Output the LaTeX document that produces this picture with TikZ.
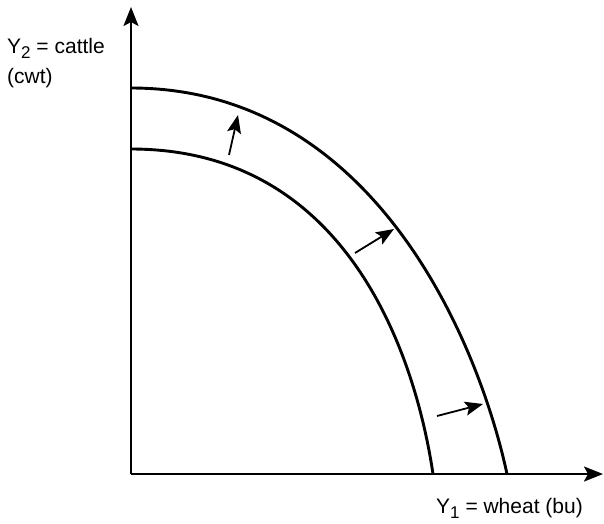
\documentclass[tikz,border=0pt]{standalone}
\usepackage{fontspec}
\setmainfont{Liberation Sans}
\usetikzlibrary{arrows.meta}
\begin{document}
\begin{tikzpicture}[x=1pt,y=-1pt,
  axis/.style={line width=2.4pt,-{Stealth[length=19pt,width=15pt,inset=4pt]}},
  curve/.style={line width=2.9pt},
  shiftarrow/.style={line width=1.8pt,-{Stealth[length=18pt,width=14pt,inset=3.5pt]}},
  lab/.style={font=\fontsize{21}{21}\selectfont,inner sep=0pt}]
\useasboundingbox (0,0) rectangle (604,523);
\newcommand{\sbs}[1]{\raisebox{-5.5pt}{\fontsize{17}{17}\selectfont #1}}
% axes
\coordinate (O) at (131,474);
\coordinate (ytip) at (131,7);
\coordinate (xtip) at (603,474);
\draw[axis] (O) -- (ytip);
\draw[axis] (O) -- (xtip);
% curves
\coordinate (i0) at (131,149);
\coordinate (i1) at (433,474);
\coordinate (o0) at (131,88);
\coordinate (o1) at (507,474);
\draw[curve] (i0) .. controls (367,149) and (421,393) .. (i1);
\draw[curve] (o0) .. controls (375,88) and (479,344) .. (o1);
% shift arrows
\coordinate (a1s) at (229,155); \coordinate (a1e) at (238,115);
\coordinate (a2s) at (355,253); \coordinate (a2e) at (394,229);
\coordinate (a3s) at (437,416); \coordinate (a3e) at (483,404);
\draw[shiftarrow] (a1s) -- (a1e);
\draw[shiftarrow] (a2s) -- (a2e);
\draw[shiftarrow] (a3s) -- (a3e);
% labels
\node[lab,anchor=base west] (ylab1) at (7,53) {Y\sbs{2} = cattle};
\node[lab,anchor=base west] (ylab2) at (7,83) {(cwt)};
\node[lab,anchor=base west] (xlab) at (436,513) {Y\sbs{1} = wheat (bu)};
\end{tikzpicture}
\end{document}
